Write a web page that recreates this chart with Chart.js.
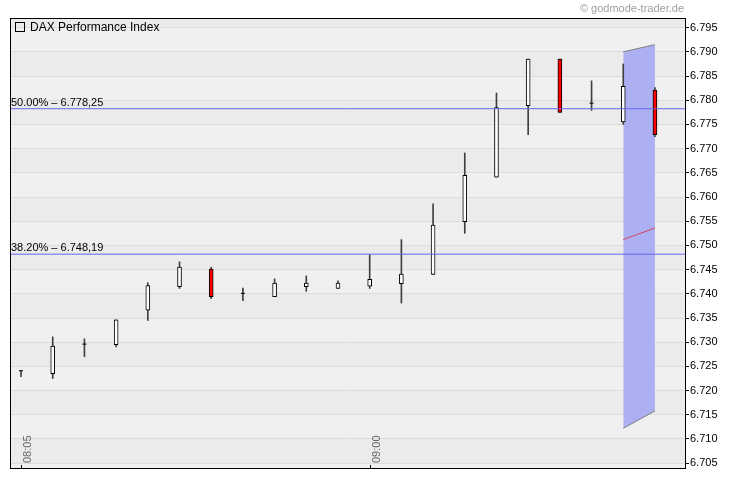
<!DOCTYPE html>
<html>
<head>
<meta charset="utf-8">
<title>DAX Performance Index</title>
<script src="https://cdn.jsdelivr.net/npm/chart.js@4.4.0/dist/chart.umd.min.js"></script>
<style>
  body { margin: 0; background: #ffffff; }
  canvas { display: block; }
</style>
</head>
<body>
<canvas id="miGrafico" width="730" height="481"></canvas>
<script>
// Datos de las velas de 5 minutos
var horas = ['08:05', '08:10', '08:15', '08:20', '08:25', '08:30', '08:35', '08:40', '08:45', '08:50', '08:55',
             '09:00', '09:05', '09:10', '09:15', '09:20', '09:25', '09:30', '09:35', '09:40', '09:45'];
var aperturas = [6724.1, 6723.5, 6729.6, 6729.5, 6736.6, 6741.5, 6745.1, 6740.1, 6739.4, 6741.5, 6741.1,
                 6741.6, 6742.1, 6744.0, 6754.9, 6764.1, 6778.9, 6788.5, 6779.4, 6775.5, 6782.1];
var maximos = [6724.1, 6731.1, 6730.7, 6734.6, 6742.3, 6746.6, 6745.5, 6741.2, 6743.1, 6743.7, 6742.7,
               6748.1, 6751.2, 6758.6, 6769.1, 6781.5, 6788.5, 6788.5, 6784.0, 6787.5, 6782.6];
var minimos = [6722.9, 6722.5, 6727.0, 6729.0, 6734.5, 6741.1, 6739.0, 6738.6, 6739.4, 6740.5, 6741.1,
               6741.1, 6738.1, 6744.0, 6752.5, 6764.1, 6772.9, 6777.5, 6777.9, 6775.0, 6772.5];
var cierres = [6724.1, 6729.2, 6729.6, 6734.6, 6741.7, 6745.5, 6739.4, 6740.1, 6742.2, 6742.2, 6742.2,
               6743.0, 6744.1, 6754.2, 6764.5, 6778.5, 6788.5, 6777.5, 6779.4, 6782.9, 6772.9];

// Canal de proyección (banda azul)
var horasBanda = ['09:40', '09:45'];
var bandaSuperior = [6790.0, 6791.5];
var bandaMedia = [6751.2, 6753.6];
var bandaInferior = [6712.2, 6715.8];

// Niveles de Fibonacci
var nivelesNombre = ['50.00%', '38.20%'];
var nivelesValor = [6778.25, 6748.19];

// Etiquetas de los ejes
var etiquetasY = [6705, 6710, 6715, 6720, 6725, 6730, 6735, 6740, 6745, 6750,
                  6755, 6760, 6765, 6770, 6775, 6780, 6785, 6790, 6795];
var etiquetasX = ['08:05', '09:00'];

document.addEventListener("DOMContentLoaded", function() {
    function minutos(h) {
        var p = h.split(':');
        return parseInt(p[0], 10) * 60 + parseInt(p[1], 10);
    }

    // Formato alemán: 6795 -> "6.795", 6778.25 -> "6.778,25"
    function formatoMiles(v) {
        var miles = Math.floor(v / 1000);
        var resto = Math.round(v - miles * 1000);
        return miles + '.' + String(resto).padStart(3, '0');
    }
    function formatoDecimal(v) {
        var entero = Math.floor(v);
        var dec = Math.round((v - entero) * 100);
        return formatoMiles(entero) + ',' + String(dec).padStart(2, '0');
    }

    var xMin = 483.26;
    var xMax = 589.74;

    // Mechas, cuerpos y dojis
    var mechas = [], cuerpos = [], coloresCuerpo = [], dojis = [];
    for (var i = 0; i < horas.length; i++) {
        var x = minutos(horas[i]);
        mechas.push({ x: x, y: [minimos[i], maximos[i]] });
        if (aperturas[i] === cierres[i]) {
            dojis.push({ x: x, y: cierres[i] });
        } else {
            cuerpos.push({ x: x, y: [aperturas[i], cierres[i]] });
            coloresCuerpo.push(cierres[i] < aperturas[i] ? '#ff0000' : '#ffffff');
        }
    }

    function puntosBanda(valores) {
        return valores.map(function(v, j) { return { x: minutos(horasBanda[j]), y: v }; });
    }

    var datasets = [
        {
            type: 'line', label: 'bandaSup', data: puntosBanda(bandaSuperior),
            borderColor: '#808080', borderWidth: 1, pointRadius: 0, fill: false, order: 5
        },
        {
            type: 'line', label: 'bandaInf', data: puntosBanda(bandaInferior),
            borderColor: '#808080', borderWidth: 1, pointRadius: 0,
            backgroundColor: '#acb0f2', fill: '-1', order: 5
        },
        {
            type: 'line', label: 'bandaMedia', data: puntosBanda(bandaMedia),
            borderColor: '#d9455f', borderWidth: 1, pointRadius: 0, fill: false, order: 4
        },
        {
            type: 'bar', label: 'mechas', data: mechas,
            backgroundColor: '#404040', barThickness: 1, grouped: false, order: 3
        },
        {
            type: 'bar', label: 'cuerpos', data: cuerpos,
            backgroundColor: coloresCuerpo, borderColor: '#000000', borderWidth: 1,
            borderSkipped: false, barThickness: 4, grouped: false, order: 2
        },
        {
            type: 'scatter', label: 'dojis', data: dojis,
            pointStyle: 'line', pointRadius: 2, borderColor: '#000000', borderWidth: 1, order: 2
        }
    ];

    nivelesValor.forEach(function(v) {
        datasets.push({
            type: 'line', label: 'nivel', data: [{ x: xMin, y: v }, { x: xMax, y: v }],
            borderColor: '#6464f0', borderWidth: 1, pointRadius: 0, fill: false, order: 0
        });
    });

    // Plugin para el fondo, el marco y los textos
    var decoracion = {
        id: 'decoracion',
        beforeDraw: function(chart) {
            var ctx = chart.ctx, area = chart.chartArea, y = chart.scales.y;
            ctx.save();
            ctx.fillStyle = '#ffffff';
            ctx.fillRect(0, 0, chart.width, chart.height);
            // franjas alternas cada 5 puntos
            for (var v = 6700; v < y.max; v += 5) {
                var top = Math.max(area.top, y.getPixelForValue(v + 5));
                var bot = Math.min(area.bottom, y.getPixelForValue(v));
                ctx.fillStyle = (v % 10 === 5) ? '#ebebeb' : '#f0f0f0';
                ctx.fillRect(area.left, top, area.right - area.left, bot - top);
            }
            ctx.restore();
        },
        afterDraw: function(chart) {
            var ctx = chart.ctx, area = chart.chartArea, xs = chart.scales.x, y = chart.scales.y;
            ctx.save();
            // marco
            ctx.strokeStyle = '#000000';
            ctx.lineWidth = 1;
            ctx.strokeRect(area.left + 0.5, area.top + 0.5, area.right - area.left, area.bottom - area.top);

            // leyenda
            ctx.strokeRect(15.5, 22.5, 9, 9);
            ctx.fillStyle = '#000000';
            ctx.font = '12px "Liberation Sans", Arial, sans-serif';
            ctx.textAlign = 'left';
            ctx.textBaseline = 'alphabetic';
            ctx.fillText('DAX Performance Index', 30, 31);

            // niveles
            ctx.font = '11px "Liberation Sans", Arial, sans-serif';
            nivelesValor.forEach(function(v, j) {
                var py = y.getPixelForValue(v);
                ctx.fillText(nivelesNombre[j] + ' \u2013 ' + formatoDecimal(v), area.left + 1, py - 3);
            });

            // copyright
            ctx.fillStyle = '#a0a0a0';
            ctx.textAlign = 'right';
            ctx.fillText('\u00a9 godmode-trader.de', 684, 12);

            // etiquetas del eje X (verticales, dentro del gráfico)
            etiquetasX.forEach(function(h) {
                var px = Math.round(xs.getPixelForValue(minutos(h)));
                ctx.strokeStyle = '#000000';
                ctx.beginPath();
                ctx.moveTo(px + 0.5, area.bottom - 3);
                ctx.lineTo(px + 0.5, area.bottom);
                ctx.stroke();
                ctx.save();
                ctx.translate(px + 10, area.bottom - 5);
                ctx.rotate(-Math.PI / 2);
                ctx.fillStyle = '#666666';
                ctx.textAlign = 'left';
                ctx.fillText(h, 0, 0);
                ctx.restore();
            });
            ctx.restore();
        }
    };

    var config = {
        type: 'bar',
        data: { datasets: datasets },
        options: {
            responsive: false,
            animation: false,
            events: [],
            layout: { padding: { left: 10, top: 18, right: 0, bottom: 13 } },
            plugins: {
                legend: { display: false },
                tooltip: { enabled: false }
            },
            scales: {
                x: {
                    type: 'linear',
                    min: xMin,
                    max: xMax,
                    offset: false,
                    display: false
                },
                y: {
                    position: 'right',
                    min: 6704,
                    max: 6797,
                    afterBuildTicks: function(scale) {
                        scale.ticks = etiquetasY.map(function(v) { return { value: v }; });
                    },
                    afterFit: function(scale) {
                        scale.width = 45;
                    },
                    grid: {
                        color: '#dcdcdc',
                        tickColor: '#000000',
                        tickLength: 4
                    },
                    border: { color: '#000000', width: 1 },
                    ticks: {
                        color: '#000000',
                        padding: 1,
                        font: { family: '"Liberation Sans", Arial, sans-serif', size: 11 },
                        callback: function(v) { return formatoMiles(v); }
                    }
                }
            }
        },
        plugins: [decoracion]
    };

    var canvas = document.getElementById('miGrafico');
    var ctx = canvas.getContext('2d');
    var miGrafico = new Chart(ctx, config);
});
</script>
</body>
</html>
